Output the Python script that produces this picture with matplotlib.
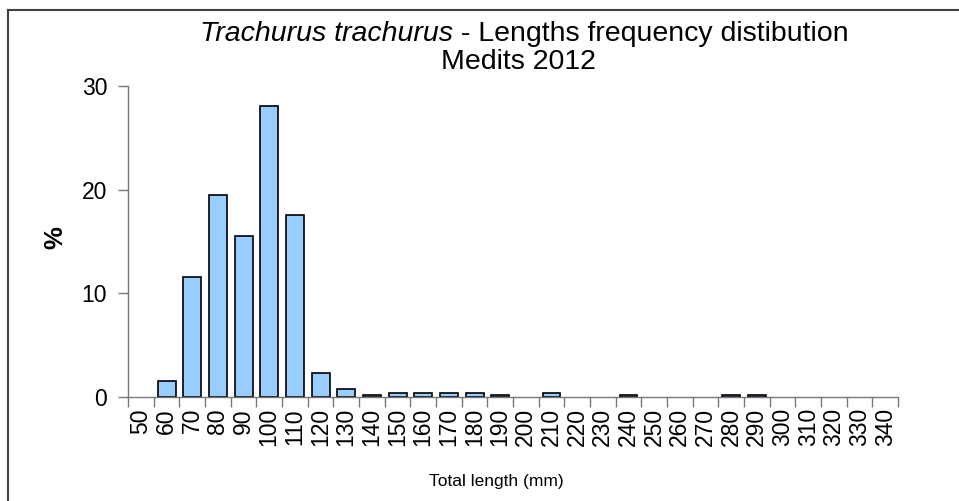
import numpy as np
import matplotlib
matplotlib.use("Agg")
import matplotlib.pyplot as plt
from matplotlib.lines import Line2D

plt.rcParams['font.family'] = ['Liberation Sans', 'DejaVu Sans']

# classes de taille (mm) et pourcentages
lengths = list(range(50, 350, 10))
percent = [0, 1.55, 11.6, 19.5, 15.5, 28.1, 17.6, 2.3, 0.74, 0.15,
           0.4, 0.4, 0.4, 0.4, 0.15, 0, 0.4, 0, 0, 0.15,
           0, 0, 0, 0.15, 0.15, 0, 0, 0, 0, 0]
y_ticks = [0, 10, 20, 30]

fig = plt.figure(figsize=(9.59, 5.01), dpi=100)
ax = fig.add_axes([0.1335, 0.2076, 0.8029, 0.6207])

x = np.arange(len(lengths))
vals = np.array(percent)
nz = vals > 0
# les classes vides ne sont pas dessinées
ax.bar(x[nz], vals[nz], width=0.7, color='#99CCFF', edgecolor='black', linewidth=1.2)

ax.set_xlim(-0.5, len(lengths) - 0.5)
ax.set_ylim(0, 30)
ax.set_yticks(y_ticks)
ax.tick_params(axis='y', labelsize=16.5, length=7, width=1, color='#777777', pad=8)

# graduations entre les classes, étiquettes au centre
ax.set_xticks(np.arange(len(lengths) + 1) - 0.5)
ax.set_xticklabels([])
ax.set_xticks(x, minor=True)
ax.set_xticklabels([str(v) for v in lengths], minor=True, rotation=90, fontsize=16.5)
ax.tick_params(axis='x', which='major', length=7, width=1, color='#777777')
ax.tick_params(axis='x', which='minor', length=0, pad=8)

for s in ['top', 'right']:
    ax.spines[s].set_visible(False)
for s in ['left', 'bottom']:
    ax.spines[s].set_color('#777777')
    ax.spines[s].set_linewidth(1)

fig.text(55 / 959, 1 - 238 / 501, '%', rotation=90, fontsize=18.5, fontweight='bold',
         ha='center', va='center')
fig.text(0.518, 0.038, 'Total length (mm)', ha='center', va='center', fontsize=12.5)

# titre : partie en italique puis le reste
fig.canvas.draw()
r = fig.canvas.get_renderer()
t1 = fig.text(200 / 959, 1 - 34 / 501, 'Trachurus trachurus', style='italic', fontsize=20.5,
              ha='left', va='center')
bb = t1.get_window_extent(renderer=r)
x2 = bb.x1 / fig.bbox.width
fig.text(x2, 1 - 34 / 501, ' - Lengths frequency distibution', fontsize=20.5,
         ha='left', va='center')
fig.text(518 / 959, 1 - 62 / 501, 'Medits 2012', fontsize=20.5, ha='center', va='center')

# cadre du graphique
fig.add_artist(Line2D([0.0083, 0.0083], [0, 0.98], transform=fig.transFigure,
                      color='#404040', linewidth=1.5))
fig.add_artist(Line2D([0.0083, 1.0], [0.98, 0.98], transform=fig.transFigure,
                      color='#404040', linewidth=1.5))

fig.savefig('out.png', dpi=100)
